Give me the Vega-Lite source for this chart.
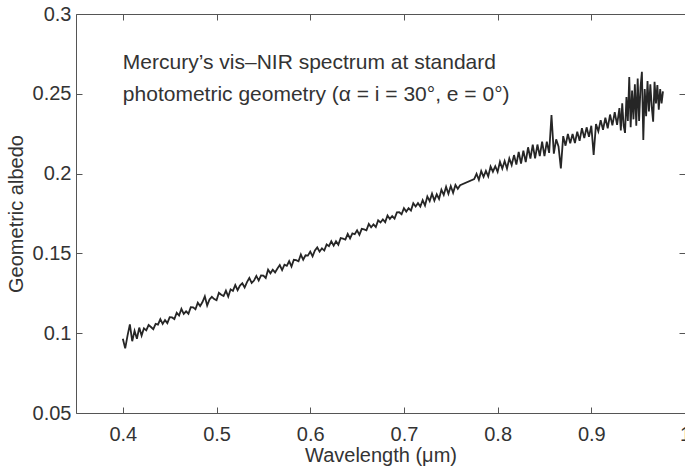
{
"$schema": "https://vega.github.io/schema/vega-lite/v6.json",
"width": 609, "height": 399,
"autosize": {"type": "none"},
"padding": {"left": 76, "top": 14, "right": 0, "bottom": 58},
"background": "white",
"config": {"font": "Liberation Sans", "view": {"stroke": null},
  "axis": {"domainColor": "#555", "tickColor": "#555", "labelColor": "#333", "titleColor": "#333", "labelFontSize": 20, "titleFontSize": 20, "titleFontWeight": "normal", "grid": false, "labelFont": "Liberation Sans", "titleFont": "Liberation Sans"}},
"datasets": {
"spectrum": [
{"w":0.4000,"a":0.0965},{"w":0.4025,"a":0.0905},{"w":0.4050,"a":0.0985},{"w":0.4075,"a":0.1055},{"w":0.4100,"a":0.0950},{"w":0.4125,"a":0.1015},{"w":0.4150,"a":0.0965},{"w":0.4175,"a":0.1035},{"w":0.4200,"a":0.0985},
{"w":0.4225,"a":0.1031},{"w":0.4250,"a":0.1018},{"w":0.4275,"a":0.1051},{"w":0.4300,"a":0.1039},{"w":0.4325,"a":0.1025},{"w":0.4350,"a":0.1058},{"w":0.4375,"a":0.1054},{"w":0.4400,"a":0.1088},
{"w":0.4425,"a":0.1058},{"w":0.4450,"a":0.1082},{"w":0.4475,"a":0.1063},{"w":0.4500,"a":0.1100},{"w":0.4525,"a":0.1099},{"w":0.4550,"a":0.1089},{"w":0.4575,"a":0.1128},{"w":0.4600,"a":0.1111},
{"w":0.4625,"a":0.1152},{"w":0.4650,"a":0.1121},{"w":0.4675,"a":0.1137},{"w":0.4700,"a":0.1122},{"w":0.4725,"a":0.1163},{"w":0.4750,"a":0.1162},{"w":0.4775,"a":0.1150},{"w":0.4800,"a":0.1191},
{"w":0.4825,"a":0.1170},{"w":0.4850,"a":0.1195},{"w":0.4875,"a":0.1231},{"w":0.4900,"a":0.1173},{"w":0.4925,"a":0.1211},{"w":0.4950,"a":0.1228},{"w":0.4975,"a":0.1214},{"w":0.5000,"a":0.1207},
{"w":0.5025,"a":0.1253},{"w":0.5050,"a":0.1241},{"w":0.5075,"a":0.1233},{"w":0.5100,"a":0.1267},{"w":0.5125,"a":0.1229},{"w":0.5150,"a":0.1275},{"w":0.5175,"a":0.1265},{"w":0.5200,"a":0.1302},
{"w":0.5225,"a":0.1270},{"w":0.5250,"a":0.1298},{"w":0.5275,"a":0.1313},{"w":0.5300,"a":0.1286},{"w":0.5325,"a":0.1320},{"w":0.5350,"a":0.1346},{"w":0.5375,"a":0.1315},{"w":0.5400,"a":0.1330},
{"w":0.5425,"a":0.1359},{"w":0.5450,"a":0.1330},{"w":0.5475,"a":0.1362},{"w":0.5500,"a":0.1361},{"w":0.5525,"a":0.1346},{"w":0.5550,"a":0.1398},{"w":0.5575,"a":0.1375},{"w":0.5600,"a":0.1398},
{"w":0.5625,"a":0.1381},{"w":0.5650,"a":0.1405},{"w":0.5675,"a":0.1427},{"w":0.5700,"a":0.1395},{"w":0.5725,"a":0.1429},{"w":0.5750,"a":0.1422},{"w":0.5775,"a":0.1451},{"w":0.5800,"a":0.1418},
{"w":0.5825,"a":0.1460},{"w":0.5850,"a":0.1458},{"w":0.5875,"a":0.1451},{"w":0.5900,"a":0.1493},{"w":0.5925,"a":0.1460},{"w":0.5950,"a":0.1488},{"w":0.5975,"a":0.1486},{"w":0.6000,"a":0.1511},
{"w":0.6025,"a":0.1482},{"w":0.6050,"a":0.1518},{"w":0.6075,"a":0.1537},{"w":0.6100,"a":0.1511},{"w":0.6125,"a":0.1532},{"w":0.6150,"a":0.1518},{"w":0.6175,"a":0.1556},{"w":0.6200,"a":0.1545},
{"w":0.6225,"a":0.1576},{"w":0.6250,"a":0.1549},{"w":0.6275,"a":0.1576},{"w":0.6300,"a":0.1554},{"w":0.6325,"a":0.1596},{"w":0.6350,"a":0.1592},{"w":0.6375,"a":0.1587},{"w":0.6400,"a":0.1622},
{"w":0.6425,"a":0.1594},{"w":0.6450,"a":0.1625},{"w":0.6475,"a":0.1620},{"w":0.6500,"a":0.1645},{"w":0.6525,"a":0.1616},{"w":0.6550,"a":0.1654},{"w":0.6575,"a":0.1651},{"w":0.6600,"a":0.1645},
{"w":0.6625,"a":0.1685},{"w":0.6650,"a":0.1664},{"w":0.6675,"a":0.1682},{"w":0.6700,"a":0.1665},{"w":0.6725,"a":0.1707},{"w":0.6750,"a":0.1694},{"w":0.6775,"a":0.1713},{"w":0.6800,"a":0.1696},
{"w":0.6825,"a":0.1738},{"w":0.6850,"a":0.1716},{"w":0.6875,"a":0.1734},{"w":0.6900,"a":0.1718},{"w":0.6925,"a":0.1757},{"w":0.6950,"a":0.1758},{"w":0.6975,"a":0.1745},{"w":0.7000,"a":0.1783},
{"w":0.7025,"a":0.1762},{"w":0.7050,"a":0.1783},{"w":0.7075,"a":0.1768},{"w":0.7100,"a":0.1814},{"w":0.7125,"a":0.1794},{"w":0.7150,"a":0.1815},{"w":0.7175,"a":0.1794},{"w":0.7200,"a":0.1834},
{"w":0.7225,"a":0.1800},{"w":0.7250,"a":0.1857},{"w":0.7275,"a":0.1828},{"w":0.7300,"a":0.1874},{"w":0.7325,"a":0.1831},{"w":0.7350,"a":0.1870},{"w":0.7375,"a":0.1841},{"w":0.7400,"a":0.1899},
{"w":0.7425,"a":0.1866},{"w":0.7450,"a":0.1917},{"w":0.7475,"a":0.1873},{"w":0.7500,"a":0.1922},{"w":0.7525,"a":0.1880},{"w":0.7550,"a":0.1929},{"w":0.7575,"a":0.1905},{"w":0.7600,"a":0.1927},
{"w":0.7750,"a":0.1966},{"w":0.7775,"a":0.1999},{"w":0.7800,"a":0.1961},{"w":0.7825,"a":0.2016},{"w":0.7850,"a":0.1980},{"w":0.7875,"a":0.2017},{"w":0.7900,"a":0.1982},{"w":0.7925,"a":0.2044},
{"w":0.7950,"a":0.2012},{"w":0.7975,"a":0.2046},{"w":0.8000,"a":0.2011},{"w":0.8025,"a":0.2074},{"w":0.8050,"a":0.2031},{"w":0.8075,"a":0.2079},{"w":0.8100,"a":0.2032},{"w":0.8125,"a":0.2095},
{"w":0.8150,"a":0.2054},{"w":0.8175,"a":0.2116},{"w":0.8200,"a":0.2057},{"w":0.8225,"a":0.2136},{"w":0.8250,"a":0.2063},{"w":0.8275,"a":0.2144},{"w":0.8300,"a":0.2072},{"w":0.8325,"a":0.2165},
{"w":0.8350,"a":0.2094},{"w":0.8375,"a":0.2181},{"w":0.8400,"a":0.2095},{"w":0.8425,"a":0.2182},{"w":0.8450,"a":0.2110},{"w":0.8475,"a":0.2200},{"w":0.8500,"a":0.2110},{"w":0.8525,"a":0.2200},
{"w":0.8550,"a":0.2130},{"w":0.8575,"a":0.2367},{"w":0.8600,"a":0.2125},{"w":0.8625,"a":0.2215},{"w":0.8650,"a":0.2170},{"w":0.8675,"a":0.2033},{"w":0.8700,"a":0.2235},{"w":0.8725,"a":0.2175},
{"w":0.8750,"a":0.2248},{"w":0.8775,"a":0.2190},{"w":0.8800,"a":0.2248},{"w":0.8825,"a":0.2192},{"w":0.8850,"a":0.2263},{"w":0.8875,"a":0.2205},{"w":0.8900,"a":0.2285},{"w":0.8925,"a":0.2222},
{"w":0.8950,"a":0.2290},{"w":0.8975,"a":0.2230},{"w":0.9000,"a":0.2300},{"w":0.9025,"a":0.2117},{"w":0.9050,"a":0.2310},{"w":0.9075,"a":0.2265},{"w":0.9100,"a":0.2335},{"w":0.9125,"a":0.2275},
{"w":0.9150,"a":0.2350},{"w":0.9175,"a":0.2284},{"w":0.9200,"a":0.2370},{"w":0.9225,"a":0.2302},{"w":0.9250,"a":0.2385},{"w":0.9275,"a":0.2305},{"w":0.9300,"a":0.2410},
{"w":0.9315,"a":0.2270},{"w":0.9330,"a":0.2440},{"w":0.9345,"a":0.2300},{"w":0.9360,"a":0.2255},{"w":0.9375,"a":0.2480},{"w":0.9390,"a":0.2330},{"w":0.9405,"a":0.2605},{"w":0.9420,"a":0.2290},
{"w":0.9435,"a":0.2520},{"w":0.9450,"a":0.2340},{"w":0.9465,"a":0.2560},{"w":0.9480,"a":0.2300},{"w":0.9495,"a":0.2595},{"w":0.9510,"a":0.2330},{"w":0.9525,"a":0.2540},{"w":0.9540,"a":0.2638},
{"w":0.9555,"a":0.2210},{"w":0.9570,"a":0.2530},{"w":0.9585,"a":0.2360},{"w":0.9600,"a":0.2580},{"w":0.9615,"a":0.2390},{"w":0.9630,"a":0.2560},{"w":0.9645,"a":0.2420},{"w":0.9660,"a":0.2325},
{"w":0.9675,"a":0.2575},{"w":0.9690,"a":0.2440},{"w":0.9705,"a":0.2555},{"w":0.9720,"a":0.2400},{"w":0.9735,"a":0.2530},{"w":0.9750,"a":0.2440},{"w":0.9765,"a":0.2515}
],
"note": [
{"w":0.4,"a":0.2655,"label":"Mercury’s vis–NIR spectrum at standard"},
{"w":0.4,"a":0.2456,"label":"photometric geometry (α = i = 30°, e = 0°)"}
]
},
"layer": [
{"data": {"name": "spectrum"},
 "mark": {"type": "line", "color": "#262626", "strokeWidth": 1.8},
 "encoding": {
  "x": {"field": "w", "type": "quantitative", "scale": {"domain": [0.35, 1.0], "nice": false, "zero": false},
        "axis": {"orient": "bottom", "values": [0.4,0.5,0.6,0.7,0.8,0.9,1.0], "format": "~g", "tickSize": -6, "labelPadding": 17, "labelFlush": false, "title": "Wavelength (μm)", "titlePadding": 1}},
  "y": {"field": "a", "type": "quantitative", "scale": {"domain": [0.05, 0.3], "nice": false, "zero": false},
        "axis": {"orient": "left", "values": [0.05,0.1,0.15,0.2,0.25,0.3], "format": "~g", "tickSize": -6, "labelPadding": 11, "labelFlush": false, "title": "Geometric albedo", "titlePadding": 6}}
 }},
{"data": {"name": "note"},
 "mark": {"type": "text", "align": "left", "baseline": "alphabetic", "fontSize": 21, "color": "#333", "font": "Liberation Sans"},
 "encoding": {
  "x": {"field": "w", "type": "quantitative", "scale": {"domain": [0.35, 1.0], "nice": false, "zero": false},
        "axis": {"orient": "top", "values": [0.4,0.5,0.6,0.7,0.8,0.9,1.0], "labels": false, "tickSize": -6, "title": null}},
  "y": {"field": "a", "type": "quantitative", "scale": {"domain": [0.05, 0.3], "nice": false, "zero": false},
        "axis": {"orient": "right", "values": [0.05,0.1,0.15,0.2,0.25,0.3], "labels": false, "domain": false, "tickSize": -6, "title": null}},
  "text": {"field": "label"}
 }}
],
"resolve": {"axis": {"x": "independent", "y": "independent"}}
}
